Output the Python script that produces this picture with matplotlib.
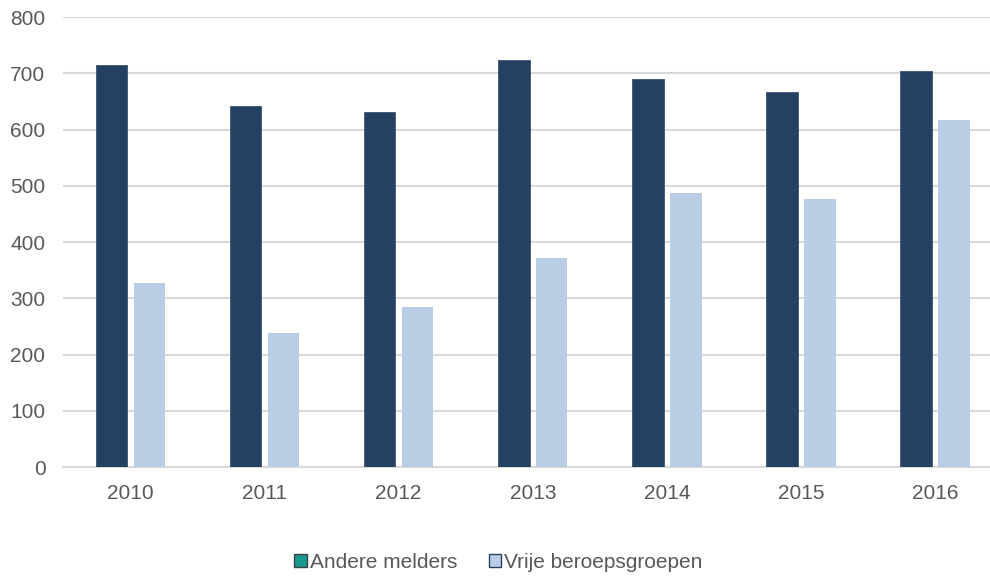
import matplotlib
matplotlib.use("Agg")
import matplotlib.pyplot as plt
from matplotlib.patches import Patch
import numpy as np

years = ["2010", "2011", "2012", "2013", "2014", "2015", "2016"]
andere_melders = [714, 641, 631, 723, 689, 667, 704]
vrije_beroepsgroepen = [327, 238, 285, 372, 487, 476, 617]
yticks = [0, 100, 200, 300, 400, 500, 600, 700, 800]

plt.rcParams['font.family'] = ['Liberation Sans', 'DejaVu Sans']
text_color = '#595959'

fig = plt.figure(figsize=(9.9, 5.77), dpi=100)
ax = fig.add_axes([0.0641, 0.1906, 1.0 - 0.0641, 0.9705 - 0.1906])

x = np.arange(len(years))
w = 0.235
off = 0.1415
ax.bar(x - off, andere_melders, width=w, color='#264061', edgecolor='#3a5478', linewidth=0.6, zorder=3)
ax.bar(x + off, vrije_beroepsgroepen, width=w, color='#B9CDE5', linewidth=0, zorder=3)

ax.set_xlim(-0.5, 6.41)
ax.set_ylim(0, 800)
ax.set_yticks(yticks)
ax.set_yticklabels([str(v) for v in yticks])
ax.set_xticks(x)
ax.set_xticklabels(years)
ax.yaxis.grid(True, color='#D9D9D9', linewidth=1.5, zorder=0)
ax.set_axisbelow(True)
for s in ['top', 'right', 'left']:
    ax.spines[s].set_visible(False)
ax.spines['bottom'].set_color('#D9D9D9')
ax.spines['bottom'].set_linewidth(1.5)
ax.tick_params(axis='both', length=0, labelsize=15, colors=text_color)
ax.tick_params(axis='y', pad=13)
ax.tick_params(axis='x', pad=12)

handles = [Patch(facecolor='#17998F', edgecolor='#404040', linewidth=1.0, label='Andere melders'),
           Patch(facecolor='#B9CDE5', edgecolor='#264061', linewidth=1.0, label='Vrije beroepsgroepen')]
leg = fig.legend(handles=handles, loc='center', bbox_to_anchor=(498.5 / 990, 1 - 562 / 577), ncol=2,
                 frameon=False, fontsize=15, handlelength=0.6, handleheight=0.6,
                 handletextpad=0.15, columnspacing=1.5, labelcolor=text_color)

fig.savefig('out.png', dpi=100)
